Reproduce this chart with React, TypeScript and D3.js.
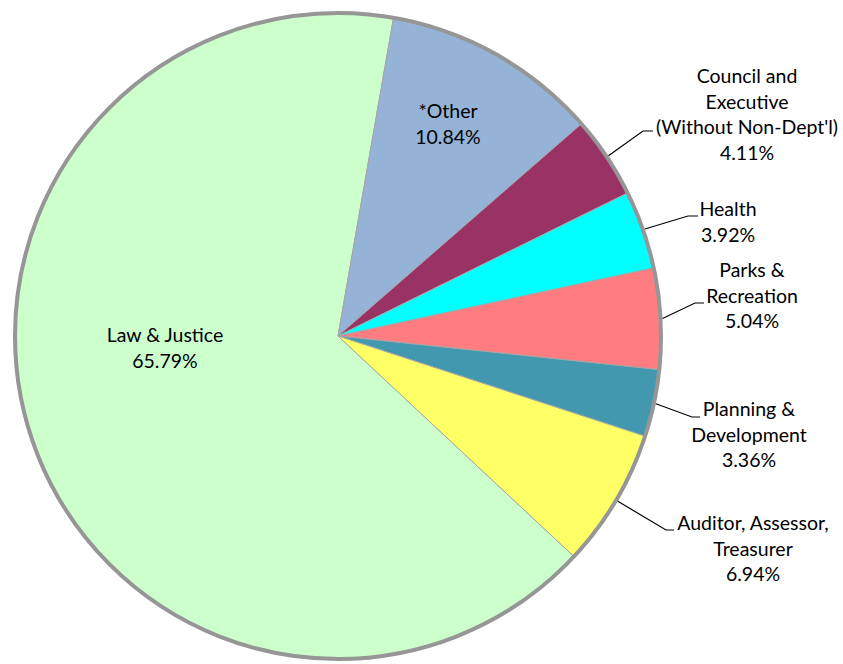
import React, { useLayoutEffect } from "react";
import * as d3 from "d3";

// ---- data ----
const categories = [
  "Law & Justice",
  "*Other",
  "Council and Executive (Without Non-Dept'l)",
  "Health",
  "Parks & Recreation",
  "Planning & Development",
  "Auditor, Assessor, Treasurer",
];
const values = [65.79, 10.84, 4.11, 3.92, 5.04, 3.36, 6.94];
const labelLines = [
  ["Law & Justice"],
  ["*Other"],
  ["Council and", "Executive", "(Without Non-Dept'l)"],
  ["Health"],
  ["Parks &", "Recreation"],
  ["Planning &", "Development"],
  ["Auditor, Assessor,", "Treasurer"],
];
const colors = ["#CCFFCC", "#95B3D7", "#993366", "#00FFFF", "#FF7C80", "#4298AF", "#FFFF66"];

// ---- layout ----
const W = 843;
const H = 664;
const cx = 338;
const cy = 336;
const R = 323;
const FONT = "Lato, 'Open Sans', sans-serif";
const FONT_SIZE = 19.5;
const LINE = 25.5;
const otherStartDeg = 9.9;

type LabelPos = { x: number; y: number; elbow?: [number, number]; end?: [number, number] };
const labelPos: LabelPos[] = [
  { x: 165, y: 342 },
  { x: 448, y: 118 },
  { x: 747, y: 83, elbow: [643, 131], end: [653, 131] },
  { x: 728, y: 216, elbow: [688, 216], end: [698, 216] },
  { x: 752, y: 277, elbow: [695, 303], end: [704, 303] },
  { x: 749, y: 416, elbow: [692, 417], end: [700, 417] },
  { x: 753, y: 530, elbow: [666, 530], end: [674, 530] },
];

export default function App() {
  useLayoutEffect(() => {
    document.body.style.margin = "0";
  }, []);

  const data = categories.map((c, i) => ({ c, v: values[i], i }));
  const lawSpan = (values[0] / d3.sum(values)) * 360;
  const start = ((otherStartDeg - lawSpan) * Math.PI) / 180;
  const pie = d3
    .pie<any>()
    .sort(null)
    .value((d) => d.v)
    .startAngle(start)
    .endAngle(start + 2 * Math.PI);
  const arcs = pie(data);
  const arc = d3.arc<any>().innerRadius(0).outerRadius(R);
  const fmt = (v: number) => d3.format(".2f")(v) + "%";

  return (
    <svg width={W} height={H} style={{ display: "block", background: "#fff" }} fontFamily={FONT} fontSize={FONT_SIZE}>
      <g transform={`translate(${cx},${cy})`}>
        {arcs.map((a, i) => (
          <path key={i} d={arc(a) || ""} fill={colors[i]} stroke="#a6a6a6" strokeWidth={1} strokeLinejoin="round" />
        ))}
        <circle r={R} fill="none" stroke="#969696" strokeWidth={4} />
      </g>
      {arcs.map((a, i) => {
        const p = labelPos[i];
        if (!p.elbow || !p.end) return null;
        const m = (a.startAngle + a.endAngle) / 2;
        const sx = cx + (R + 2) * Math.sin(m);
        const sy = cy - (R + 2) * Math.cos(m);
        const line = d3.line()([[sx, sy], p.elbow, p.end]);
        return <path key={"l" + i} d={line || ""} fill="none" stroke="#000" strokeWidth={1.2} />;
      })}
      {arcs.map((a, i) => {
        const p = labelPos[i];
        const lines = [...labelLines[i], fmt(values[i])];
        return (
          <text key={"t" + i} x={p.x} y={p.y} textAnchor="middle" fill="#000">
            {lines.map((t, k) => (
              <tspan key={k} x={p.x} y={p.y + k * LINE}>
                {t}
              </tspan>
            ))}
          </text>
        );
      })}
    </svg>
  );
}
